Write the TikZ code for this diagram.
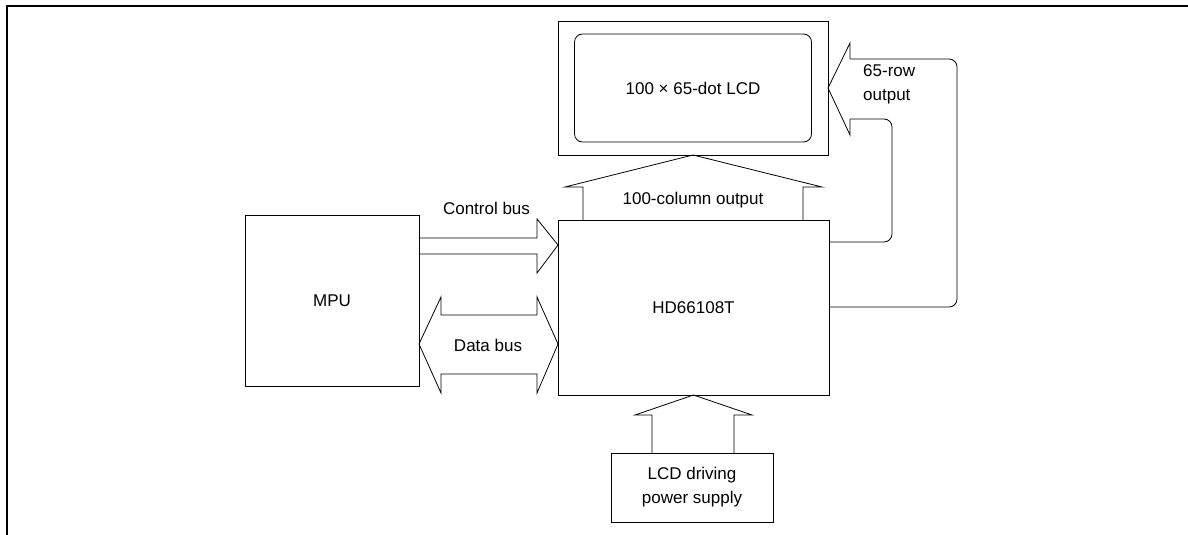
\documentclass[tikz,border=0pt]{standalone}
\usepackage{fontspec}
\setmainfont{Liberation Sans}
\usetikzlibrary{positioning,calc}

\tikzset{
  blk/.style={draw, line width=0.8pt, inner sep=0pt, outer sep=0pt},
  bus/.style={line width=0.8pt, line join=miter},
  txt/.style={font=\fontsize{17}{24}\selectfont, inner sep=0pt}
}

\begin{document}
\begin{tikzpicture}[x=1pt,y=-1pt]
    \useasboundingbox (0,0) rectangle (1188,535);
    \draw[line width=2.5pt] (7,535) -- (7,6) -- (1188,6);
    % blocks
    \node[blk, minimum width=174pt, minimum height=171pt] (mpu) at (332,300.5) {};
    \node[txt] (mputxt) at (mpu) {MPU};
    \node[blk, minimum width=271pt, minimum height=175pt] (hd) at (693.5,307.5) {};
    \node[txt] (hdtxt) at (hd) {HD66108T};
    \node[blk, minimum width=270pt, minimum height=134pt] (lcd) at (693,88) {};
    \node[blk, rounded corners=8pt, minimum width=237pt, minimum height=108pt] (panel) at (lcd) {};
    \node[txt] (lcdtxt) at (lcd) {100 × 65-dot LCD};
    \node[blk, minimum width=162pt, minimum height=69pt] (pwr) at (692,487.5) {};
    \node[txt, align=center] (pwrtxt) at (pwr) {LCD driving\\power supply};
    % control bus
    \draw[bus] ($(mpu.north east)+(0,23)$) -- (537,238) -- (537,219) -- ($(hd.north west)+(0,25)$)
        -- (537,273) -- (537,254) -- ($(mpu.north east)+(0,39)$);
    \node[txt] (ctltxt) at (486.5,208) {Control bus};
    % data bus
    \draw[bus] ($(mpu.north east)+(0,129)$) -- (441,297) -- (441,315) -- (537,315) -- (537,297)
        -- ($(hd.north west)+(0,124)$) -- (537,393) -- (537,374) -- (441,374) -- (441,393) -- cycle;
    \node[txt] (dattxt) at (488,345) {Data bus};
    % column output
    \draw[bus] (583,220) -- (583,187) -- (565,187) -- (lcd.south) -- (822,187) -- (803,187) -- (803,220);
    \node[txt] (coltxt) at (693,200) {100-column output};
    % row output
    \draw[bus] (850,59) -- (850,43) -- (lcd.east) -- (850,135) -- (850,119);
    \draw[bus, rounded corners=8pt] (850,59) -- (957,59) -- (957,307) -- (hd.east |- 0,307);
    \draw[bus, rounded corners=8pt] (850,119) -- (892,119) -- (892,242) -- (hd.east |- 0,242);
    \node[txt, align=left, anchor=west] (rowtxt) at (863,84) {65-row\\output};
    % power supply
    \draw[bus] (652,453) -- (652,415) -- (635,415) -- (hd.south) -- (752,415) -- (734,415) -- (734,453);
\end{tikzpicture}
\end{document}
